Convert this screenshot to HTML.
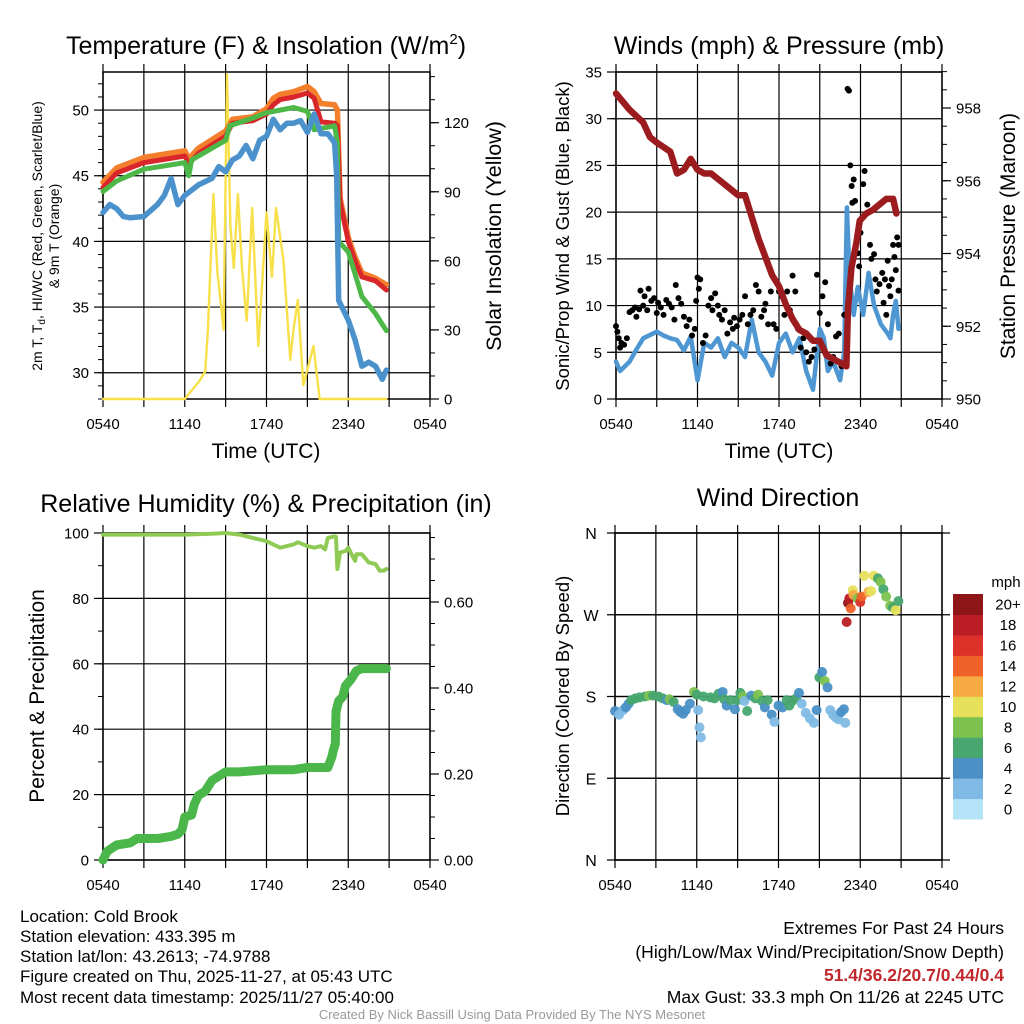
<!DOCTYPE html>
<html><head><meta charset="utf-8"><style>
html,body{margin:0;padding:0;background:#fff;}
svg{display:block;font-family:"Liberation Sans",Arial,sans-serif;}
</style></head><body>
<svg id="fig" width="1024" height="1024" viewBox="0 0 1024 1024" xmlns="http://www.w3.org/2000/svg">
<rect width="1024" height="1024" fill="#fff"/>
<g id="g-temp"></g>
<g id="g-wind"></g>
<g id="g-rh"></g>
<g id="g-dir"></g>

<text x="266" y="54" font-size="25" text-anchor="middle">Temperature (F) &amp; Insolation (W/m<tspan font-size="15" dy="-10">2</tspan><tspan dy="10">)</tspan></text>
<text x="779" y="54" font-size="25" text-anchor="middle">Winds (mph) &amp; Pressure (mb)</text>
<text x="266" y="512" font-size="25" text-anchor="middle">Relative Humidity (%) &amp; Precipitation (in)</text>
<text x="778" y="506" font-size="25" text-anchor="middle">Wind Direction</text>

<text x="266" y="458" font-size="21" text-anchor="middle">Time (UTC)</text>
<text x="779" y="458" font-size="21" text-anchor="middle">Time (UTC)</text>

<text transform="translate(42,236) rotate(-90)" font-size="14" text-anchor="middle">2m T, T<tspan font-size="10" dy="3">d</tspan><tspan dy="-3">, HI/WC (Red, Green, Scarlet/Blue)</tspan></text>
<text transform="translate(59,236) rotate(-90)" font-size="14" text-anchor="middle">&amp; 9m T (Orange)</text>
<text transform="translate(501,236) rotate(-90)" font-size="21.5" text-anchor="middle">Solar Insolation (Yellow)</text>
<text transform="translate(569,236) rotate(-90)" font-size="18.5" text-anchor="middle">Sonic/Prop Wind &amp; Gust (Blue, Black)</text>
<text transform="translate(1015,236) rotate(-90)" font-size="21" text-anchor="middle">Station Pressure (Maroon)</text>
<text transform="translate(44,696) rotate(-90)" font-size="21" text-anchor="middle">Percent &amp; Precipitation</text>
<text transform="translate(569,696) rotate(-90)" font-size="18.5" text-anchor="middle">Direction (Colored By Speed)</text>

<g font-size="17">
<text x="20" y="922">Location: Cold Brook</text>
<text x="20" y="942">Station elevation: 433.395 m</text>
<text x="20" y="962">Station lat/lon: 43.2613; -74.9788</text>
<text x="20" y="982">Figure created on Thu, 2025-11-27, at 05:43 UTC</text>
<text x="20" y="1003">Most recent data timestamp: 2025/11/27 05:40:00</text>
</g>
<g font-size="17.5" text-anchor="end">
<text x="1004" y="934">Extremes For Past 24 Hours</text>
<text x="1004" y="958">(High/Low/Max Wind/Precipitation/Snow Depth)</text>
<text x="1004" y="981" fill="#c0282d" font-weight="bold">51.4/36.2/20.7/0.44/0.4</text>
<text x="1004" y="1003">Max Gust: 33.3 mph On 11/26 at 2245 UTC</text>
</g>
<text x="512" y="1019" font-size="13" fill="#999" text-anchor="middle">Created By Nick Bassill Using Data Provided By The NYS Mesonet</text>
</svg>
<script>
// ---------- DATA (hours since 0540 UTC) ----------
const timeTickLabels = ["0540","1140","1740","2340","0540"];
const tempTicks = [30,35,40,45,50];
const solarTicks = [0,30,60,90,120];
const windTicks = [0,5,10,15,20,25,30,35];
const presTicks = [950,952,954,956,958];
const rhTicks = [0,20,40,60,80,100];
const precipTicks = [0,0.2,0.4,0.6];
const dirLabels = ["N","E","S","W","N"];
const speedBinLabels = ["0","2","4","6","8","10","12","14","16","18","20+"];
const speedBinColors = ["#b4e2f7","#80bae4","#4a90c6","#48a66f","#7dc24f","#e6e05b","#f6aa44","#ef6229","#dc3229","#bb1d24","#8e1619"];

const tempHours = [0,1,3,6,6.3,7,9,9.5,11,12,12.5,13,14,15,15.5,16,17,17.2,17.4,18,18.5,19,20,20.8];
const tempT =     [44.1,45.2,46.0,46.5,45.9,46.7,48.0,49.0,49.2,49.7,50.4,50.8,51.0,51.3,50.9,49.1,49.0,48.8,43.0,40.0,38.5,37.3,37.0,36.3];
const temp9m =    [44.5,45.6,46.4,46.9,46.3,47.1,48.4,49.3,49.5,50.1,50.9,51.2,51.4,51.8,51.4,50.5,50.4,50.0,43.3,40.3,38.8,37.6,37.2,36.7];
const heatHours = [0,1,3,6,6.3,6.5,9,9.3,11,12,14,15,15.5,16,17,17.2,17.3,18,18.5,19,20,20.8];
const heatIdx =   [43.8,44.6,45.5,46.0,45.0,46.2,47.7,48.8,49.4,49.8,50.2,49.9,48.5,48.6,48.8,47.5,40.0,39.2,37.5,35.8,34.5,33.2];
const dewHours = [0,0.5,1,1.5,2,3,4,4.5,5,5.5,6,7,8,8.5,9,9.5,10,10.5,11,11.5,12,12.5,13,13.5,14,14.5,15,15.5,16,16.5,17,17.15,17.3,18,18.5,19,19.5,20,20.5,20.8];
const dewPt =    [42.2,42.8,42.5,41.9,41.8,41.9,42.8,43.5,44.8,42.8,43.5,44.3,44.8,45.7,45.3,46.2,46.5,47.3,46.3,47.7,48.0,49.3,48.5,49.0,49.0,49.2,48.3,49.7,48.2,48.2,47.5,45.0,35.5,34.0,32.5,30.5,30.8,30.5,29.5,30.2];
const solarHours = [0,6,6.4,7.1,7.5,7.7,8.1,8.4,8.85,9.1,9.35,9.6,9.9,10.2,10.55,10.95,11.4,12,12.4,12.7,13.25,13.75,14.0,14.3,14.7,15.45,15.9,20.8];
const solarVals =  [0,0,3,8,12,30,89,55,30,141,75,57,89,57,34,83,23,81,53,83,60,17,31,43,6,23,0,0];

const presHours = [0,1,2,2.5,3,4,4.5,5,5.5,6,6.5,7,8,9,9.5,10,10.5,11,11.5,12,12.5,13,13.5,14,14.5,15,15.5,16,16.5,16.96,17.08,17.33,17.7,17.94,18.43,18.92,19.9,20.4,20.64];
const presVals =  [958.4,957.95,957.6,957.2,957.05,956.8,956.2,956.3,956.6,956.3,956.2,956.2,955.9,955.6,955.6,955.0,954.4,953.9,953.4,953.1,952.6,952.2,951.9,951.8,951.6,951.6,951.2,951.1,951.0,950.9,952.5,953.6,954.3,954.9,955.1,955.2,955.5,955.5,955.1];
const windHours = [0,0.3,1,1.5,2,3,3.5,4,4.5,5,5.5,6,6.5,7,7.5,8,8.5,9,9.5,10,10.5,11,11.5,12,12.5,13,13.5,14,14.5,15,15.3,15.6,16,16.5,16.8,17,17.2,17.5,17.8,18.2,18.6,19,19.5,20,20.2,20.4,20.6,20.8];
const windVals =  [4,3,4,5.3,6.5,7.2,6.8,6.5,6.3,5.2,6.7,2,6,5.5,6.5,4.5,6,5.5,4.5,8.5,5,4,2.5,6,7,5,6.5,3,1,7.5,6.5,3,4,2,5,20.5,13,9,12,9,13.5,10,8,7,6.5,9,10.5,7.5];
const gustHours = [0,0.1,0.2,0.3,0.4,0.6,0.8,1,1.2,1.4,1.5,1.7,1.8,2,2.1,2.3,2.4,2.6,2.8,3,3.1,3.3,3.5,3.7,3.9,4.1,4.3,4.4,4.6,4.8,5,5.2,5.4,5.6,5.8,5.9,6,6.1,6.2,6.4,6.6,6.8,7,7.1,7.3,7.5,7.6,7.8,8,8.2,8.4,8.6,8.7,8.9,9.1,9.3,9.5,9.7,9.9,10.1,10.3,10.5,10.7,10.9,11,11.2,11.4,11.6,11.8,12,12.2,12.4,12.6,12.8,13,13.2,13.4,13.6,13.8,14,14.2,14.4,14.6,14.8,15,15.2,15.4,15.6,15.8,16,16.2,16.4,16.6,16.8,17.05,17.15,17.25,17.35,17.4,17.5,17.6,17.8,17.9,18,18.2,18.3,18.5,18.7,18.8,19,19.1,19.2,19.4,19.6,19.7,19.8,19.9,20,20.1,20.2,20.3,20.4,20.5,20.6,20.7,20.8,20.8];
const gustVals =  [7.8,7.2,6.5,5.5,6,5.8,6.5,9.3,9.5,9.8,8.8,9.6,11.6,10,11,9.5,11.8,10.5,10.8,9.2,10.3,9.8,9,10.6,10.2,9.8,8.5,12.2,10.8,10.2,8.8,7.8,8.5,6.8,7.5,10.5,13,11.8,12.8,6,6.8,10,10.8,9.5,11.3,10,9,8.5,9.5,7,8.2,7.5,8.7,7.8,8.5,9,11,8,9,9.5,12.2,11.5,8.8,9.5,10.2,8,11.5,8,7.5,11.5,11,9,11.5,9.5,13.2,11.5,7.5,5.5,6.5,5,4,4.5,5.3,13.3,9.2,11,12.5,8,3.8,4.5,6.7,7,3.5,9,33.2,33,25,22.8,21,23.5,21.2,15.6,14.2,17.8,23,24.4,20.8,16.5,15,15.5,12.8,11.5,12.3,13.5,10.3,12.8,9,14.8,12.1,11,12.8,16.5,15.2,13.8,17.3,11.6,16.5];

const rhHours = [0,3,6,8,9,10,11,12,13,14,14.3,15,15.5,16,16.3,16.5,17,17.1,17.2,17.4,17.8,18,18.3,18.5,18.6,19,19.5,20,20.3,20.6,20.8];
const rhVals =  [99.5,99.5,99.5,99.8,100,99.5,98.5,97.5,95.5,96.5,97.2,96,95.5,96,95,98.5,99,98.8,89,94,94.5,95.5,93,91.5,93.5,93.5,91,90.5,88.5,88.5,89];
const precipHours = [0,0.3,1,2,2.5,4,5,5.5,5.8,6,6.5,6.7,7,7.5,8,8.5,9,10,12,14,15,16.5,16.8,16.9,17.05,17.1,17.3,17.6,17.8,18.2,18.6,19,20.8];
const precipVals =  [0,0.02,0.035,0.04,0.05,0.05,0.055,0.06,0.07,0.1,0.105,0.13,0.15,0.16,0.185,0.195,0.205,0.205,0.21,0.21,0.215,0.215,0.24,0.255,0.27,0.345,0.37,0.38,0.405,0.42,0.44,0.445,0.445];

const dirHours = [0,0.3,0.6,0.8,1,1.2,1.5,1.8,2.2,2.5,2.8,3.2,3.5,3.8,4,4.3,4.6,4.8,5,5.2,5.5,5.8,6,6.1,6.2,6.3,6.5,7,7.3,7.6,7.9,8,8.2,8.5,8.8,9,9.2,9.4,9.5,9.7,10,10.3,10.5,10.8,11,11.2,11.5,11.7,12,12.3,12.6,12.8,13,13.3,13.5,13.7,14,14.3,14.6,14.8,15,15.2,15.4,15.6,15.8,16,16.2,16.4,16.6,16.8,16.9,17,17.1,17.2,17.3,17.45,17.5,17.8,18,18.1,18.3,18.6,18.8,19,19.3,19.5,19.7,19.9,20.2,20.4,20.6,20.8];
const dirDeg =   [164,160,165,168,172,176,178,179,180,181,181,180,178,176,177,174,166,163,161,165,172,185,182,165,146,135,180,179,178,183,185,177,170,176,166,176,184,180,175,164,181,178,182,175,168,176,160,152,170,168,176,170,175,178,184,172,162,156,151,165,201,207,197,190,165,160,157,155,163,166,151,262,283,288,277,297,292,288,284,290,313,295,296,313,310,306,298,290,280,278,275,285];
const dirSpeed = [4,2,2,4,4,6,6,6,6,8,6,6,6,4,8,6,4,4,4,4,4,8,6,2,2,2,6,6,6,6,4,6,4,6,4,6,6,8,2,6,4,6,8,6,4,6,4,2,4,4,6,6,6,6,4,2,2,2,2,4,6,4,8,4,2,2,2,2,4,4,2,18,20,18,14,10,12,8,16,14,10,12,10,10,6,8,6,8,8,6,10,6];

// ---------- helpers ----------
const NS="http://www.w3.org/2000/svg";
function mk(parent,tag,attrs){const e=document.createElementNS(NS,tag);for(const k in attrs)e.setAttribute(k,attrs[k]);parent.appendChild(e);return e;}
const X0=103,X1=430;
function timeScale(x0,x1){return h=>x0+(x1-x0)*h/24;}
function lin(d0,d1,r0,r1){return v=>r0+(v-d0)*(r1-r0)/(d1-d0);}

function frame(g,x0,x1,y0,y1,hLines,yFn,nm){
  const xs=timeScale(x0,x1);
  for(let h=0;h<=24;h+=3){
    const l=mk(g,'line',{x1:xs(h),x2:xs(h),y1:y0-8,y2:y1+8,stroke:'#000','stroke-width':1.2});
    
    
  }
  hLines.forEach(v=>{
    const l=mk(g,'line',{x1:x0,x2:x1,y1:yFn(v),y2:yFn(v),stroke:'#000','stroke-width':1.2});
    
    
  });
  const r=mk(g,'rect',{x:x0,y:y0,width:x1-x0,height:y1-y0,fill:'none',stroke:'#000','stroke-width':1.5});
  
  
  timeTickLabels.forEach((t,i)=>{
    const tx=mk(g,'text',{x:xs(i*6),y:y1+30,'font-size':15,'text-anchor':'middle'});tx.textContent=t;
    
    
  });
  return xs;
}
function yAxis(g,x,fn,ticks,minorStep,lo,hi,side,fmt,nm,fs){
  const dir=side==='left'?-1:1;
  for(let v=lo;v<=hi+1e-9;v+=minorStep){mk(g,'line',{x1:x,x2:x+dir*5,y1:fn(v),y2:fn(v),stroke:'#000','stroke-width':1});}
  ticks.forEach(v=>{
    mk(g,'line',{x1:x,x2:x+dir*9,y1:fn(v),y2:fn(v),stroke:'#000','stroke-width':1.2});
    const t=mk(g,'text',{x:x+dir*14,y:fn(v)+5.5,'font-size':fs||15,'text-anchor':side==='left'?'end':'start'});
    t.textContent=fmt(v);
    
    
  });
}
function path(g,xs,ys,xf,yf,attrs,nm){
  const d=xs.map((h,i)=>(i?'L':'M')+xf(h).toFixed(1)+','+yf(ys[i]).toFixed(1)).join(' ');
  const p=mk(g,'path',Object.assign({d:d,fill:'none','stroke-linejoin':'round','stroke-linecap':'round'},attrs));
  
  
}

// ---------- Temperature panel ----------
(function(){
  const g=document.getElementById('g-temp');
  const y0=72,y1=399;
  const yT=lin(28,52.9,y1,y0), yS=lin(0,120,y1,122.7);
  const xs=frame(g,X0,X1,y0,y1,tempTicks,yT,'temp');
  yAxis(g,X0,yT,tempTicks,1,28,52.9,'left',v=>v,'temp-y');
  yAxis(g,X1,yS,solarTicks,10,0,140,'right',v=>v,'solar-y');
  path(g,solarHours,solarVals,xs,yS,{stroke:'#f7e04a','stroke-width':2.4},'solar-line');
  path(g,tempHours,temp9m,xs,yT,{stroke:'#f37f2d','stroke-width':5.5},'temp-9m-line');
  path(g,tempHours,tempT,xs,yT,{stroke:'#d9262a','stroke-width':5},'temp-2m-line');
  path(g,heatHours,heatIdx,xs,yT,{stroke:'#4db848','stroke-width':5},'heat-index-line');
  path(g,dewHours,dewPt,xs,yT,{stroke:'#4b92cc','stroke-width':5.5},'dewpoint-line');
})();

// ---------- Wind / Pressure panel ----------
(function(){
  const g=document.getElementById('g-wind');
  const x0=616,x1=942,y0=72,y1=399;
  const yW=lin(0,35,y1,y0), yP=lin(950,958,y1,108);
  const xs=frame(g,x0,x1,y0,y1,windTicks,yW,'wind');
  yAxis(g,x0,yW,windTicks,5,0,35,'left',v=>v,'wind-y');
  yAxis(g,x1,yP,presTicks,0.5,950,959,'right',v=>v,'pressure-y');
  path(g,windHours,windVals,xs,yW,{stroke:'#4e97d3','stroke-width':4.5},'wind-speed-line');
  gustHours.forEach((h,i)=>{
    const c=mk(g,'circle',{cx:xs(h),cy:yW(gustVals[i]),r:3,fill:'#000'});
    
    
  });
  path(g,presHours,presVals,xs,yP,{stroke:'#9b1b1e','stroke-width':6.5},'pressure-line');
})();

// ---------- RH / Precip panel ----------
(function(){
  const g=document.getElementById('g-rh');
  const y0=533,y1=860;
  const yR=lin(0,100,y1,y0), yIn=lin(0,0.6,y1,602);
  const xs=frame(g,X0,X1,y0,y1,rhTicks,yR,'rh');
  yAxis(g,X0,yR,rhTicks,10,0,100,'left',v=>v,'rh-y');
  yAxis(g,X1,yIn,precipTicks,0.05,0,0.76,'right',v=>v.toFixed(2),'precip-y');
  path(g,rhHours,rhVals,xs,yR,{stroke:'#8fcb54','stroke-width':4},'rh-line');
  path(g,precipHours,precipVals,xs,yIn,{stroke:'#4bb64a','stroke-width':9},'precip-line');
})();

// ---------- Wind direction panel ----------
(function(){
  const g=document.getElementById('g-dir');
  const x0=615,x1=942,y0=533,y1=860;
  const yD=lin(0,360,y1,y0);
  const xs=frame(g,x0,x1,y0,y1,[0,90,180,270,360],yD,'dir');
  [0,90,180,270,360].forEach((v,i)=>{
    mk(g,'line',{x1:x0-8,x2:x1+8,y1:yD(v),y2:yD(v),stroke:'#000','stroke-width':1.2});
    const t=mk(g,'text',{x:591,y:yD(v)+6,'font-size':16,'text-anchor':'middle'});t.textContent=dirLabels[i];
    
    
  });
  dirHours.forEach((h,i)=>{
    const b=Math.min(10,Math.floor(dirSpeed[i]/2));
    const c=mk(g,'circle',{cx:xs(h),cy:yD(dirDeg[i]),r:5,fill:speedBinColors[b],opacity:0.95});
    
    
  });
  const cb=mk(g,'g',{});
  
  
  const bh=(819-594)/11;
  speedBinColors.forEach((c,i)=>{
    const yy=819-(i+1)*bh;
    const r=mk(cb,'rect',{x:953,y:yy,width:30,height:bh+0.5,fill:c});
    
    
    const t=mk(cb,'text',{x:1008,y:yy+bh/2+5.5,'font-size':15,'text-anchor':'middle'});t.textContent=speedBinLabels[i];
    
    
  });
  const u=mk(cb,'text',{x:1006,y:587,'font-size':15,'text-anchor':'middle'});u.textContent='mph';
  
  
})();
</script>
</body></html>
